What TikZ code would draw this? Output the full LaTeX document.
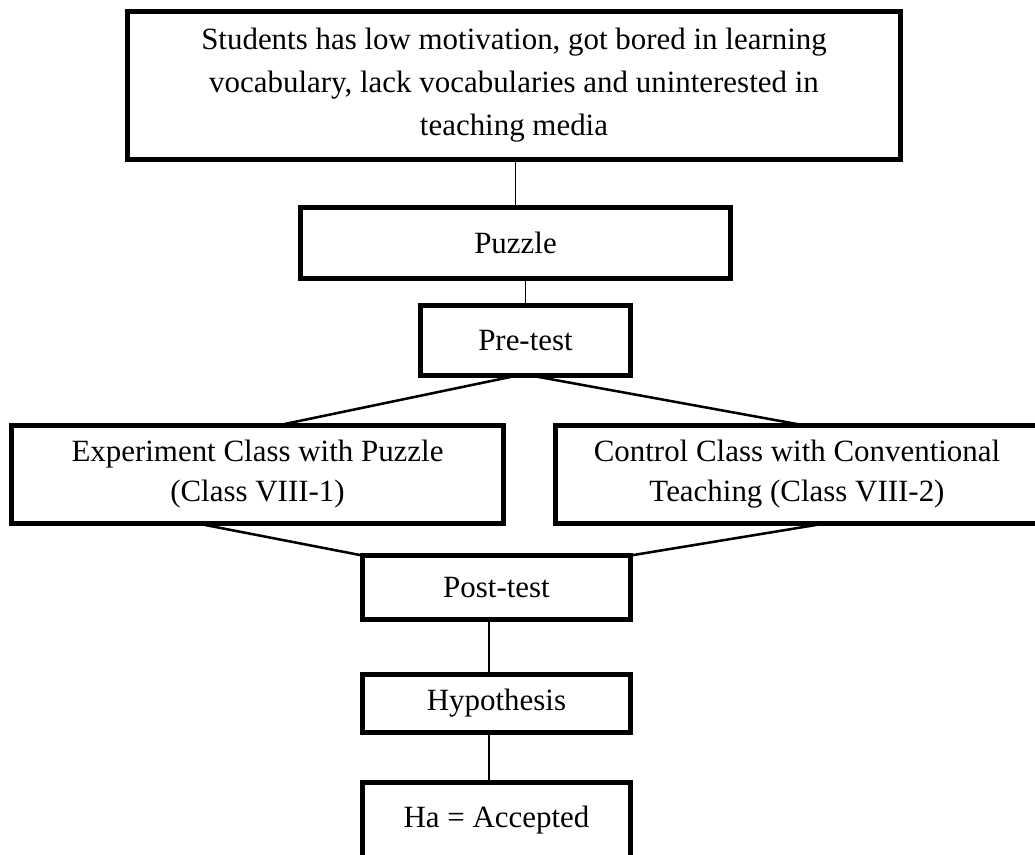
\documentclass[tikz,border=0pt]{standalone}
\usepackage{fontspec}
\setmainfont{Liberation Serif}
\usetikzlibrary{calc}
\begin{document}
\begin{tikzpicture}[x=0.75pt,y=-0.75pt,
  box/.style={draw=black, line width=3.75pt, fill=white, rectangle, inner sep=0pt, outer sep=0pt,
    align=center, font=\fontsize{23.2pt}{32.25pt}\selectfont},
  conn/.style={draw=black, line width=1.3pt},
  diag/.style={draw=black, line width=1.9pt}]
\useasboundingbox (0,0) rectangle (1035,855);
\fill[white] (0,0) rectangle (1035,855);
\clip (0,0) rectangle (1035,855);

\node[box, minimum width=579.75pt, minimum height=111pt] (top) at (514,85.5)
  {Students has low motivation, got bored in learning\\vocabulary, lack vocabularies and uninterested in\\teaching media};
\node[box, minimum width=322.5pt, minimum height=53.25pt] (puzzle) at (515.5,243) {Puzzle};
\node[box, minimum width=157.5pt, minimum height=52.5pt] (pretest) at (525.5,340.5) {Pre-test};
\node[box, minimum width=369pt, minimum height=73.5pt,
  font=\fontsize{23.2pt}{30pt}\selectfont] (exp) at (257.5,474.5)
  {Experiment Class with Puzzle\\(Class VIII-1)};
\node[box, minimum width=362.25pt, minimum height=73.5pt,
  font=\fontsize{23.2pt}{30pt}\selectfont] (ctrl) at (797,474.5)
  {Control Class with Conventional\\Teaching (Class VIII-2)};
\node[box, minimum width=201pt, minimum height=48pt] (post) at (496.5,587.5) {Post-test};
\node[box, minimum width=201pt, minimum height=43.5pt] (hyp) at (496.5,703.5) {Hypothesis};
\node[box, minimum width=201pt, minimum height=57pt] (ha) at (496.5,820) {Ha = Accepted};

\draw[conn] (top.south -| puzzle.north) -- (puzzle.north);
\draw[conn] (puzzle.south -| pretest.north) -- (pretest.north);
\draw[diag] ($(pretest.south)+(-8,0)$) -- ($(exp.north)+(20,0)$);
\draw[diag] ($(pretest.south)+(5,0)$) -- ($(ctrl.north)+(8,0)$);
\draw[diag] ($(exp.south)+(-60,0)$) -- (post.north west);
\draw[diag] ($(ctrl.south)+(28,0)$) -- (post.north east);
\draw[conn] ($(post.south)+(-7.5,0)$) -- ($(hyp.north)+(-7.5,0)$);
\draw[conn] ($(hyp.south)+(-7.5,0)$) -- ($(ha.north)+(-7.5,0)$);
\end{tikzpicture}
\end{document}
